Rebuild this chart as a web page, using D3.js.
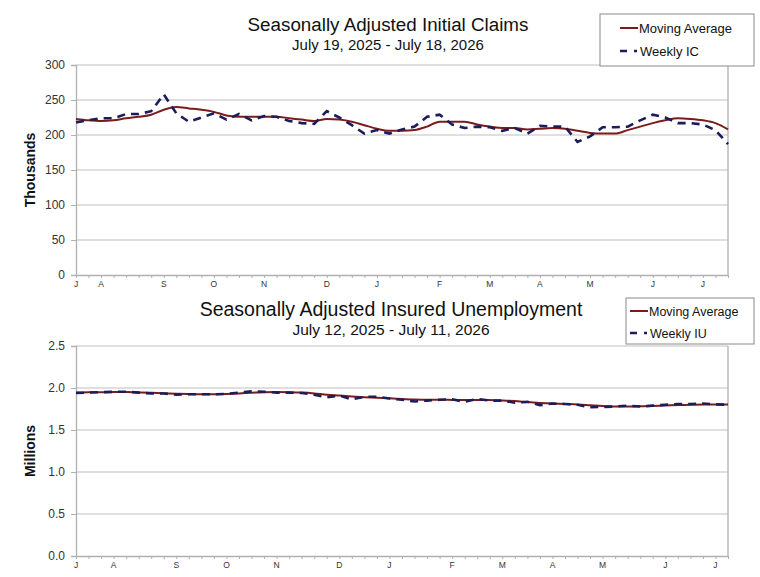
<!DOCTYPE html>
<html><head><meta charset="utf-8">
<script src="https://cdn.jsdelivr.net/npm/d3@7"></script>
<style>body{margin:0;background:#fff}svg{display:block;font-family:"Liberation Sans",Arial,sans-serif}</style>
</head><body><svg id="c" width="760" height="577"></svg>
<script>
// ---------- DATA ----------
const icMonthLabels = [[0,"J"],[2,"A"],[7,"S"],[11,"O"],[15,"N"],[20,"D"],[24,"J"],[29,"F"],[33,"M"],[37,"A"],[41,"M"],[46,"J"],[50,"J"]];
const iuMonthLabels = [[0,"J"],[3,"A"],[8,"S"],[12,"O"],[16,"N"],[21,"D"],[25,"J"],[30,"F"],[34,"M"],[38,"A"],[42,"M"],[47,"J"],[51,"J"]];
const icTicks = [0,50,100,150,200,250,300];
const iuTicks = [0.0,0.5,1.0,1.5,2.0,2.5];
const weeklyIC = [218,221,224,224,230,230,234,258,231,219,225,231,222,230,221,227,226,220,217,216,234,225,214,202,207,202,208,212,226,229,215,210,212,211,206,210,202,213,212,212,190,198,211,211,212,221,229,225,217,217,215,207,187];
const movingAvgIC = [223,221,220,221,224,226,229,236,240,238,236,233,228,226,226,226,226,224,222,220,223,222,219,214,209,206,206,207,212,219,219,219,215,212,210,210,208,209,210,209,206,203,202,202,207,212,217,221,224,223,221,217,208];
const weeklyIU = [1.94,1.945,1.95,1.955,1.955,1.945,1.935,1.935,1.92,1.925,1.925,1.925,1.93,1.945,1.96,1.955,1.945,1.945,1.94,1.92,1.89,1.91,1.865,1.895,1.895,1.875,1.86,1.84,1.85,1.86,1.865,1.835,1.87,1.85,1.85,1.825,1.835,1.795,1.815,1.81,1.80,1.77,1.775,1.78,1.79,1.78,1.79,1.80,1.81,1.81,1.815,1.805,1.80];
const movingAvgIU = [1.945,1.948,1.95,1.952,1.952,1.948,1.943,1.938,1.932,1.928,1.926,1.926,1.93,1.936,1.944,1.95,1.952,1.95,1.945,1.935,1.92,1.91,1.9,1.89,1.885,1.878,1.87,1.862,1.86,1.86,1.858,1.856,1.856,1.856,1.85,1.845,1.832,1.822,1.815,1.81,1.805,1.795,1.785,1.78,1.78,1.782,1.787,1.792,1.797,1.8,1.803,1.805,1.803];

const svg = d3.select("#c");
const MA_COLOR = "#7b1c1c", WK_COLOR = "#1c1c5a", GRID = "#d4d4d4", AXIS = "#b0b0b0";

function panel(o){
  const g = svg.append("g");
  const x = d3.scaleLinear().domain([0, o.weekly.length-1]).range([o.x0, o.x1]);
  const y = d3.scaleLinear().domain(o.ydom).range([o.y1, o.y0]);
  g.append("g").selectAll("line").data(o.yticks.slice(1)).join("line")
    .attr("x1", o.x0).attr("x2", o.x1).attr("y1", d=>y(d)).attr("y2", d=>y(d))
    .attr("stroke", GRID).attr("stroke-width", 1.3);
  g.append("line").attr("x1", o.x1).attr("x2", o.x1).attr("y1", o.y0).attr("y2", o.y1).attr("stroke", AXIS).attr("stroke-width",1.3);
  const ya = g.append("g").attr("transform", `translate(${o.x0},0)`)
    .call(d3.axisLeft(y).tickValues(o.yticks).tickFormat(o.fmt).tickSize(5).tickPadding(6));
  ya.select(".domain").attr("stroke", AXIS).attr("stroke-width",1.3);
  ya.selectAll(".tick line").attr("stroke", AXIS);
  ya.selectAll("text").attr("font-size", 12).attr("fill", "#333").attr("font-family","Liberation Sans, Arial, sans-serif");
  const xa = g.append("g").attr("transform", `translate(0,${o.y1})`)
    .call(d3.axisBottom(x).tickValues(d3.range(o.weekly.length)).tickFormat("").tickSize(3).tickSizeOuter(0));
  xa.select(".domain").attr("stroke", AXIS).attr("stroke-width",1.3);
  xa.selectAll(".tick line").attr("stroke", AXIS);
  g.append("g").selectAll("text").data(o.months).join("text")
    .attr("x", d=>x(d[0])).attr("y", o.y1+12).attr("text-anchor","middle")
    .attr("font-size", 8.5).attr("fill","#333").text(d=>d[1]);
  const line = d3.line().x((d,i)=>x(i)).y(d=>y(d)).curve(d3.curveMonotoneX);
  g.append("path").datum(o.ma).attr("d", line).attr("fill","none").attr("stroke", MA_COLOR).attr("stroke-width", 2);
  g.append("path").datum(o.weekly).attr("d", d3.line().x((d,i)=>x(i)).y(d=>y(d))).attr("fill","none")
    .attr("stroke", WK_COLOR).attr("stroke-width", 2.6).attr("stroke-dasharray","8,6");
  g.append("text").attr("transform", `translate(${o.ylabX},${(o.y0+o.y1)/2}) rotate(-90)`)
    .attr("text-anchor","middle").attr("font-size", 14).attr("font-weight","bold").attr("fill","#111").text(o.ylab);
  g.append("text").attr("x", o.tx).attr("y", o.ty).attr("text-anchor","middle").attr("font-size", o.tfs).attr("fill","#111").text(o.title);
  g.append("text").attr("x", o.tx).attr("y", o.sty).attr("text-anchor","middle").attr("font-size", o.sfs).attr("fill","#111").text(o.sub);
  const L = o.leg;
  g.append("rect").attr("x", L.x).attr("y", L.y).attr("width", L.w).attr("height", L.h)
    .attr("fill","#fff").attr("stroke","#8a8a8a").attr("stroke-width",1);
  g.append("line").attr("x1", L.lx).attr("x2", L.lx+18).attr("y1", L.r1).attr("y2", L.r1).attr("stroke", MA_COLOR).attr("stroke-width",2);
  g.append("text").attr("x", L.lx+19).attr("y", L.r1+4.5).attr("font-size", L.fs).attr("fill","#111").text("Moving Average");
  g.append("line").attr("x1", L.lx).attr("x2", L.lx+19).attr("y1", L.r2).attr("y2", L.r2).attr("stroke", WK_COLOR).attr("stroke-width",2.6).attr("stroke-dasharray","7,7,3,10");
  g.append("text").attr("x", L.lx+20).attr("y", L.r2+4.5).attr("font-size", L.fs).attr("fill","#111").text(o.legName);
}

panel({x0:76, x1:728, y0:65, y1:275, ydom:[0,300], yticks:icTicks, fmt:d3.format("d"),
  weekly:weeklyIC, ma:movingAvgIC, months:icMonthLabels, ylab:"Thousands", ylabX:35,
  title:"Seasonally Adjusted Initial Claims", sub:"July 19, 2025 - July 18, 2026", tx:388, ty:30.5, sty:49.5, tfs:18.8, sfs:15,
  leg:{x:600,y:14,w:154,h:52,r1:28,r2:51,lx:620,fs:13}, legName:"Weekly IC"});

panel({x0:76, x1:728, y0:346, y1:556, ydom:[0,2.5], yticks:iuTicks, fmt:d3.format(".1f"),
  weekly:weeklyIU, ma:movingAvgIU, months:iuMonthLabels, ylab:"Millions", ylabX:35,
  title:"Seasonally Adjusted Insured Unemployment", sub:"July 12, 2025 - July 11, 2026", tx:391, ty:315.5, sty:334.5, tfs:19.5, sfs:15.5,
  leg:{x:626,y:298,w:128,h:46,r1:311,r2:333,lx:630,fs:12.5}, legName:"Weekly IU"});
</script></body></html>
